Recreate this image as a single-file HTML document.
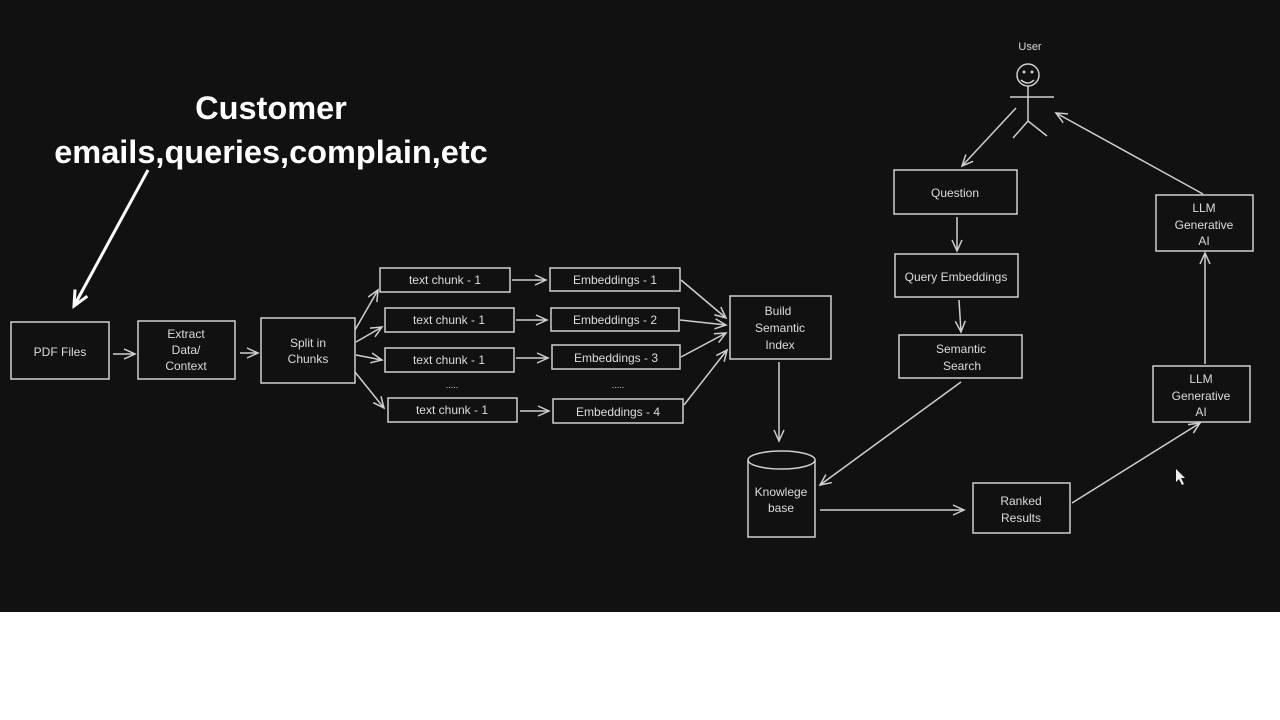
<!DOCTYPE html>
<html><head><meta charset="utf-8"><style>
html,body{margin:0;padding:0;width:1280px;height:720px;overflow:hidden;background:#fff}
svg{display:block}
</style></head><body>
<svg width="1280" height="720" viewBox="0 0 1280 720" xmlns="http://www.w3.org/2000/svg">
<defs>
<marker id="a" markerWidth="14" markerHeight="12" refX="12" refY="6" orient="auto" markerUnits="userSpaceOnUse">
<path d="M1,1 L12,6 L1,11" fill="none" stroke="#cfcfcf" stroke-width="1.5"/>
</marker>
<marker id="w" markerWidth="20" markerHeight="18" refX="17" refY="9" orient="auto" markerUnits="userSpaceOnUse">
<path d="M2,2 L17,9 L2,16" fill="none" stroke="#fff" stroke-width="3"/>
</marker>
</defs>
<rect x="0" y="0" width="1280" height="612" fill="#121112"/>
<g font-family="Liberation Sans, sans-serif" font-weight="bold" fill="#fff" font-size="32.5" text-anchor="middle">
<text x="271" y="119">Customer</text>
<text x="271" y="163">emails,queries,complain,etc</text>
</g>
<line x1="148" y1="170" x2="74" y2="306" stroke="#fff" stroke-width="3" marker-end="url(#w)"/>
<g fill="none" stroke="#cfcfcf" stroke-width="1.5">
<rect x="11" y="322" width="98" height="57"/>
<rect x="138" y="321" width="97" height="58"/>
<rect x="261" y="318" width="94" height="65"/>
<rect x="380" y="268" width="130" height="24"/>
<rect x="385" y="308" width="129" height="24"/>
<rect x="385" y="348" width="129" height="24"/>
<rect x="388" y="398" width="129" height="24"/>
<rect x="550" y="268" width="130" height="23"/>
<rect x="551" y="308" width="128" height="23"/>
<rect x="552" y="345" width="128" height="24"/>
<rect x="553" y="399" width="130" height="24"/>
<rect x="730" y="296" width="101" height="63"/>
<rect x="894" y="170" width="123" height="44"/>
<rect x="895" y="254" width="123" height="43"/>
<rect x="899" y="335" width="123" height="43"/>
<rect x="1156" y="195" width="97" height="56"/>
<rect x="1153" y="366" width="97" height="56"/>
<rect x="973" y="483" width="97" height="50"/>
<path d="M748,460 L748,537 L815,537 L815,460"/>
<ellipse cx="781.5" cy="460" rx="33.5" ry="9"/>
<circle cx="1028" cy="75" r="11"/>
<path d="M1028,86 L1028,121 M1010,97 L1054,97 M1028,121 L1013,138 M1028,121 L1047,136 M1021,80 Q1028,86 1034,80"/>
</g>
<g fill="#cfcfcf"><circle cx="1024" cy="72" r="1.5"/><circle cx="1032" cy="72" r="1.5"/></g>
<g stroke="#cfcfcf" stroke-width="1.5" fill="none" marker-end="url(#a)">
<line x1="113" y1="354" x2="135" y2="354"/>
<line x1="240" y1="353" x2="258" y2="353"/>
<line x1="355" y1="330" x2="378" y2="290"/>
<line x1="356" y1="342" x2="382" y2="327"/>
<line x1="356" y1="355" x2="382" y2="360"/>
<line x1="355" y1="372" x2="384" y2="408"/>
<line x1="512" y1="280" x2="546" y2="280"/>
<line x1="516" y1="320" x2="547" y2="320"/>
<line x1="516" y1="358" x2="548" y2="358"/>
<line x1="520" y1="411" x2="549" y2="411"/>
<line x1="681" y1="280" x2="726" y2="318"/>
<line x1="680" y1="320" x2="726" y2="325"/>
<line x1="681" y1="357" x2="726" y2="333"/>
<line x1="684" y1="405" x2="727" y2="350"/>
<line x1="779" y1="362" x2="779" y2="441"/>
<line x1="1016" y1="108" x2="962" y2="166"/>
<line x1="957" y1="217" x2="957" y2="251"/>
<line x1="959" y1="300" x2="961" y2="332"/>
<line x1="961" y1="382" x2="820" y2="485"/>
<line x1="820" y1="510" x2="964" y2="510"/>
<line x1="1072" y1="503" x2="1200" y2="423"/>
<line x1="1205" y1="364" x2="1205" y2="253"/>
<line x1="1203" y1="194" x2="1056" y2="113"/>
</g>
<g font-family="Liberation Sans, sans-serif" font-size="12" fill="#dcdcdc" text-anchor="middle">
<text x="1030" y="50" font-size="11">User</text>
<text x="60" y="356">PDF Files</text>
<text x="186" y="338">Extract</text>
<text x="186" y="354">Data/</text>
<text x="186" y="370">Context</text>
<text x="308" y="347">Split in</text>
<text x="308" y="363">Chunks</text>
<text x="445" y="284">text chunk - 1</text>
<text x="449" y="324">text chunk - 1</text>
<text x="449" y="364">text chunk - 1</text>
<text x="452" y="414">text chunk - 1</text>
<text x="452" y="388" font-size="9">.....</text>
<text x="615" y="284">Embeddings - 1</text>
<text x="615" y="324">Embeddings  - 2</text>
<text x="616" y="362">Embeddings  - 3</text>
<text x="618" y="416">Embeddings  - 4</text>
<text x="618" y="388" font-size="9">.....</text>
<text x="778" y="315">Build</text>
<text x="780" y="332">Semantic</text>
<text x="780" y="349">Index</text>
<text x="955" y="197">Question</text>
<text x="956" y="281">Query Embeddings</text>
<text x="961" y="353">Semantic</text>
<text x="962" y="370">Search</text>
<text x="1204" y="212">LLM</text>
<text x="1204" y="229">Generative</text>
<text x="1204" y="245">AI</text>
<text x="1201" y="383">LLM</text>
<text x="1201" y="400">Generative</text>
<text x="1201" y="416">AI</text>
<text x="1021" y="505">Ranked</text>
<text x="1021" y="522">Results</text>
<text x="781" y="496">Knowlege</text>
<text x="781" y="512">base</text>
</g>
<path d="M1176,469 L1176,482 L1179,479 L1182,485 L1184,484 L1181,478 L1185,478 Z" fill="#eee"/>
</svg>
</body></html>
